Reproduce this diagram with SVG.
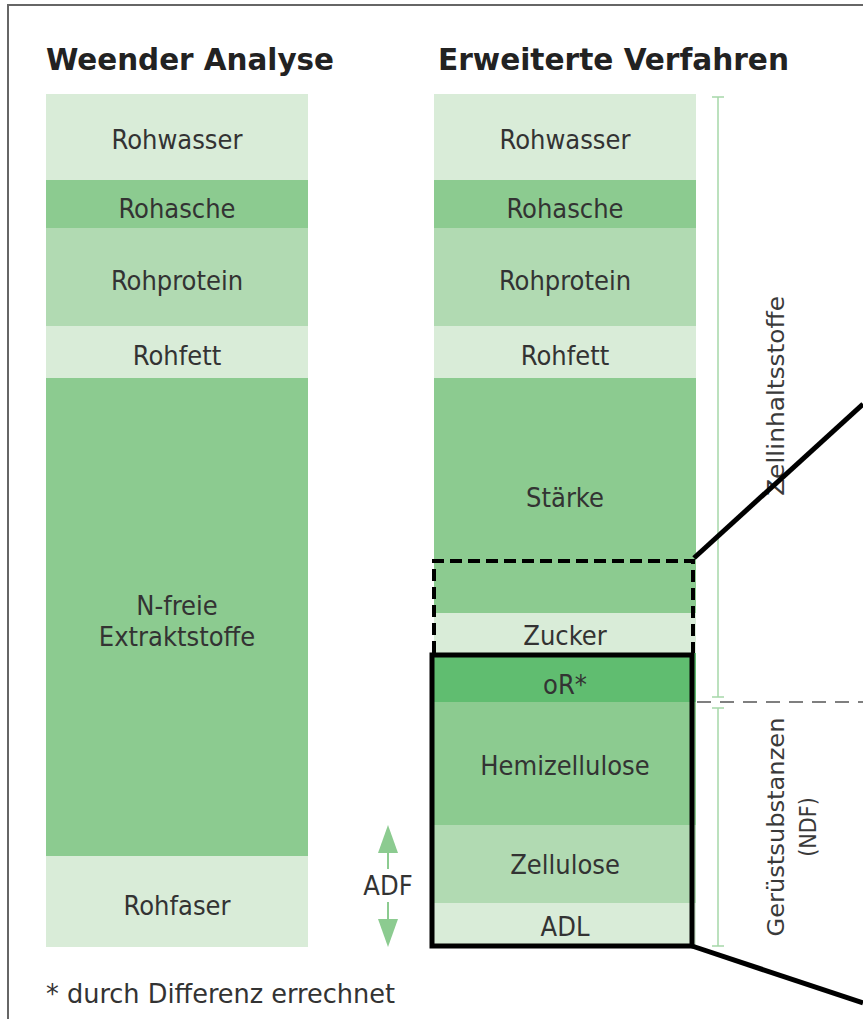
<svg xmlns="http://www.w3.org/2000/svg" width="863" height="1019" viewBox="0 0 863 1019">
  <style>
    .lbl { font-family: "DejaVu Sans Condensed", "DejaVu Sans", "Liberation Sans", sans-serif; font-stretch: condensed; font-size: 27px; fill: #333; text-anchor: middle; }
    .ttl { font-family: "DejaVu Sans Condensed", "DejaVu Sans", "Liberation Sans", sans-serif; font-stretch: condensed; font-weight: bold; font-size: 31px; fill: #222; }
    .side { font-family: "DejaVu Sans Condensed", "DejaVu Sans", "Liberation Sans", sans-serif; font-stretch: condensed; font-size: 23px; fill: #3a3a3a; text-anchor: middle; }
    .c1 { fill: #d9ecd8; }
    .c2 { fill: #8ccb90; }
    .c3 { fill: #b1dab2; }
    .c4 { fill: #60bd70; }
    .brk { stroke: #a6d8a9; stroke-width: 1.5; fill: none; }
    .zoom { stroke: #000; stroke-width: 5; fill: none; }
    .adf { stroke: #8ccb90; stroke-width: 2; fill: none; }
    .head { fill: #8ccb90; }
  </style>

  <!-- outer frame -->
  <rect x="8" y="5" width="900" height="1100" fill="#fff" stroke="#666" stroke-width="2"/>

  <!-- titles -->
  <g id="titles">
    <text class="ttl" x="46" y="70" textLength="288" lengthAdjust="spacingAndGlyphs">Weender Analyse</text>
    <text class="ttl" x="438" y="70" textLength="351" lengthAdjust="spacingAndGlyphs">Erweiterte Verfahren</text>
  </g>

  <!-- Weender column -->
  <g id="weender">
    <g id="w-rohwasser"><rect class="c1" x="46" y="94" width="262" height="86"/><text class="lbl" x="177" y="149">Rohwasser</text></g>
    <g id="w-rohasche"><rect class="c2" x="46" y="180" width="262" height="48"/><text class="lbl" x="177" y="218">Rohasche</text></g>
    <g id="w-rohprotein"><rect class="c3" x="46" y="228" width="262" height="98"/><text class="lbl" x="177" y="290">Rohprotein</text></g>
    <g id="w-rohfett"><rect class="c1" x="46" y="326" width="262" height="52"/><text class="lbl" x="177" y="365">Rohfett</text></g>
    <g id="w-nfe"><rect class="c2" x="46" y="378" width="262" height="478"/><text class="lbl" x="177" y="615">N-freie</text><text class="lbl" x="177" y="646">Extraktstoffe</text></g>
    <g id="w-rohfaser"><rect class="c1" x="46" y="856" width="262" height="91"/><text class="lbl" x="177" y="915">Rohfaser</text></g>
  </g>

  <!-- extended column -->
  <g id="erweitert">
    <g id="e-rohwasser"><rect class="c1" x="434" y="94" width="262" height="86"/><text class="lbl" x="565" y="149">Rohwasser</text></g>
    <g id="e-rohasche"><rect class="c2" x="434" y="180" width="262" height="48"/><text class="lbl" x="565" y="218">Rohasche</text></g>
    <g id="e-rohprotein"><rect class="c3" x="434" y="228" width="262" height="98"/><text class="lbl" x="565" y="290">Rohprotein</text></g>
    <g id="e-rohfett"><rect class="c1" x="434" y="326" width="262" height="52"/><text class="lbl" x="565" y="365">Rohfett</text></g>
    <g id="e-staerke"><rect class="c2" x="434" y="378" width="262" height="235"/><text class="lbl" x="565" y="507">Stärke</text></g>
    <g id="e-zucker"><rect class="c1" x="434" y="613" width="262" height="40"/><text class="lbl" x="565" y="645">Zucker</text></g>
    <g id="e-or"><rect class="c4" x="434" y="653" width="262" height="49"/><text class="lbl" x="565" y="694">oR*</text></g>
    <g id="e-hemi"><rect class="c2" x="434" y="702" width="262" height="123"/><text class="lbl" x="565" y="775">Hemizellulose</text></g>
    <g id="e-zell"><rect class="c3" x="434" y="825" width="262" height="78"/><text class="lbl" x="565" y="874">Zellulose</text></g>
    <g id="e-adl"><rect class="c1" x="434" y="903" width="262" height="44"/><text class="lbl" x="565" y="936">ADL</text></g>
  </g>

  <!-- ADF span arrows -->
  <g id="adf">
    <line class="adf" x1="388" y1="850" x2="388" y2="869"/>
    <polygon class="head" points="388,825 378,853 398,853"/>
    <line class="adf" x1="388" y1="902" x2="388" y2="922"/>
    <polygon class="head" points="388,947 378,919 398,919"/>
    <text class="lbl" x="388" y="895">ADF</text>
  </g>

  <!-- brackets and side labels -->
  <g id="brackets">
    <path class="brk" d="M718,97 V697 M712,97 H724 M712,697 H724"/>
    <path class="brk" d="M718,708 V946 M712,708 H724 M712,946 H724"/>
    <text class="side" transform="translate(784,396) rotate(-90)" textLength="200" lengthAdjust="spacingAndGlyphs">Zellinhaltsstoffe</text>
    <text class="side" transform="translate(784,827) rotate(-90)" textLength="219" lengthAdjust="spacingAndGlyphs">Gerüstsubstanzen</text>
    <text class="side" transform="translate(816,827) rotate(-90)">(NDF)</text>
  </g>

  <!-- connectors: highlight frames and zoom lines -->
  <g id="connectors">
    <line x1="697" y1="702" x2="863" y2="702" stroke="#555" stroke-width="1.5" stroke-dasharray="14 9"/>
    <path d="M434,653 V561 H693 V653" fill="none" stroke="#000" stroke-width="4" stroke-dasharray="12 6"/>
    <rect class="zoom" x="432" y="655" width="260" height="291"/>
    <line class="zoom" x1="694" y1="558" x2="863" y2="404"/>
    <line class="zoom" x1="692" y1="946" x2="863" y2="1003"/>
  </g>

  <!-- footnote -->
  <text class="lbl" x="46" y="1003" style="text-anchor:start" textLength="349" lengthAdjust="spacingAndGlyphs">* durch Differenz errechnet</text>
</svg>
